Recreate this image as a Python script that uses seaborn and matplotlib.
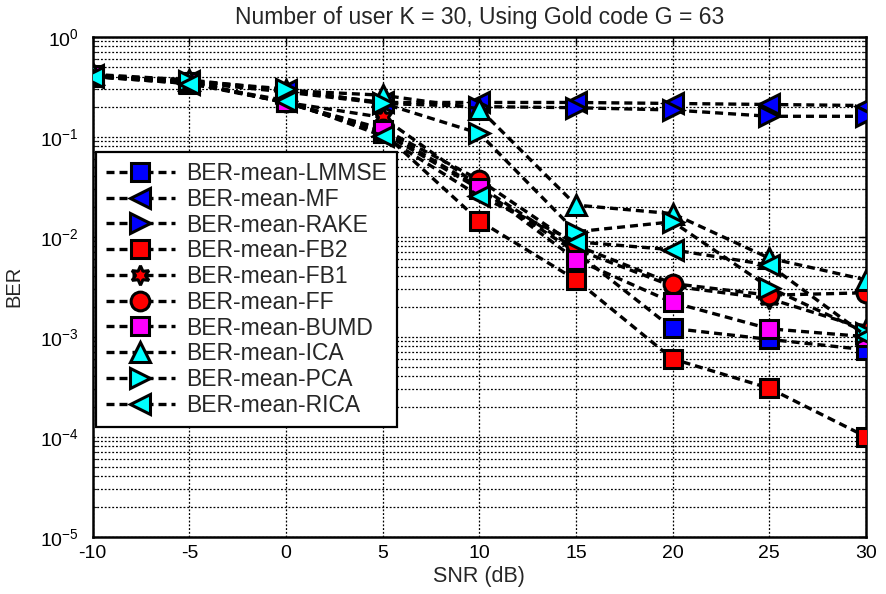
import numpy as np
import pandas as pd
import matplotlib
matplotlib.use("Agg")
import matplotlib.pyplot as plt
from matplotlib.ticker import LogLocator, NullFormatter
import seaborn as sns

# SNR grid (dB)
snr = [-10, -5, 0, 5, 10, 15, 20, 25, 30]

# Mean bit error rate per receiver
ber_lmmse = [0.40, 0.35, 0.22, 0.110, 0.030, 0.0070, 0.00121, 0.00094, 0.00074]
ber_mf    = [0.41, 0.36, 0.29, 0.220, 0.220, 0.2200, 0.21500, 0.21000, 0.20500]
ber_rake  = [0.41, 0.35, 0.28, 0.215, 0.200, 0.1950, 0.18500, 0.16000, 0.16000]
ber_fb2   = [0.40, 0.34, 0.22, 0.110, 0.0144, 0.0037, 0.00060, 0.000305, 0.00010]
ber_fb1   = [0.40, 0.35, 0.22, 0.156, 0.032, 0.0075, 0.00320, 0.00240, 0.00120]
ber_ff    = [0.41, 0.35, 0.22, 0.120, 0.037, 0.0082, 0.00340, 0.00260, 0.00275]
ber_bumd  = [0.41, 0.35, 0.22, 0.117, 0.031, 0.0059, 0.00220, 0.00120, 0.00100]
ber_ica   = [0.42, 0.37, 0.29, 0.260, 0.190, 0.0207, 0.01700, 0.00610, 0.00370]
ber_pca   = [0.41, 0.36, 0.30, 0.216, 0.108, 0.0112, 0.01410, 0.00310, 0.00110]
ber_rica  = [0.40, 0.34, 0.23, 0.102, 0.0255, 0.0089, 0.00740, 0.00520, 0.00102]

labels = ["BER-mean-LMMSE", "BER-mean-MF", "BER-mean-RAKE", "BER-mean-FB2",
          "BER-mean-FB1", "BER-mean-FF", "BER-mean-BUMD", "BER-mean-ICA",
          "BER-mean-PCA", "BER-mean-RICA"]
series = [ber_lmmse, ber_mf, ber_rake, ber_fb2, ber_fb1, ber_ff, ber_bumd,
          ber_ica, ber_pca, ber_rica]
markers = ["s", "<", ">", "s", (6, 1, 0), "o", "s", "^", ">", "<"]
faces = ["#0000ff", "#0000ff", "#0000ff", "#ff0000", "#ff0000", "#ff0000",
         "#ff00ff", "#00ffff", "#00ffff", "#00ffff"]
sizes = [12.5, 15, 15, 12.5, 14, 13.5, 12.5, 15, 15, 15]

sns.set_style("white")
plt.rcParams["font.family"] = ["Liberation Sans", "DejaVu Sans"]
plt.rcParams["mathtext.fontset"] = "custom"
plt.rcParams["mathtext.rm"] = "Liberation Sans"
plt.rcParams["axes.unicode_minus"] = False

fig = plt.figure(figsize=(8.86, 5.94), dpi=100)
ax = fig.add_axes([0.1046, 0.0965, 0.8728, 0.8417])

for lab, vals, mk, fc, ms in zip(labels, series, markers, faces, sizes):
    df = pd.DataFrame({"SNR": snr, "BER": vals})
    sns.lineplot(data=df, x="SNR", y="BER", ax=ax, color="black",
                 linestyle=(0, (2.4, 1.5)), linewidth=2.4,
                 marker=mk, markersize=ms, markerfacecolor=fc,
                 markeredgecolor="black", markeredgewidth=2.2,
                 label=lab, zorder=3)

ax.set_yscale("log")
ax.set_xlim(-10, 30)
ax.set_ylim(1e-5, 1)
ax.set_xticks(snr)
ax.yaxis.set_major_locator(LogLocator(base=10, numticks=10))
ax.yaxis.set_minor_locator(LogLocator(base=10, subs=np.arange(2, 10), numticks=20))
ax.yaxis.set_minor_formatter(NullFormatter())

grid_kw = dict(color="black", linestyle=(0, (1.5, 1.5)), linewidth=0.9)
ax.grid(True, which="major", axis="both", **grid_kw)
ax.grid(True, which="minor", axis="y", **grid_kw)
ax.set_axisbelow(True)

ax.tick_params(axis="both", which="major", direction="in", length=5,
               labelsize=14, width=1, top=True, right=True, colors="black")
ax.tick_params(axis="x", which="major", pad=6)
ax.tick_params(axis="y", which="major", pad=10)
ax.tick_params(axis="y", which="minor", direction="in", length=3,
               width=0.8, right=True, left=True)
for sp in ax.spines.values():
    sp.set_color("black")
    sp.set_linewidth(1.8)

ax.set_title("Number of user K = 30, Using Gold code G = 63", fontsize=16.5, pad=9)
ax.set_xlabel("SNR (dB)", fontsize=15.5, labelpad=3)
ax.set_ylabel("BER", fontsize=14.5, labelpad=12)

leg = ax.legend(loc="upper left", bbox_to_anchor=(0.004, 0.770),
                borderaxespad=0, fontsize=16.5, handlelength=3.0,
                labelspacing=0.12, fancybox=False, framealpha=1,
                edgecolor="black", borderpad=0.45, handletextpad=0.5)
leg.get_frame().set_linewidth(1.6)

fig.savefig("out.png", dpi=100)
